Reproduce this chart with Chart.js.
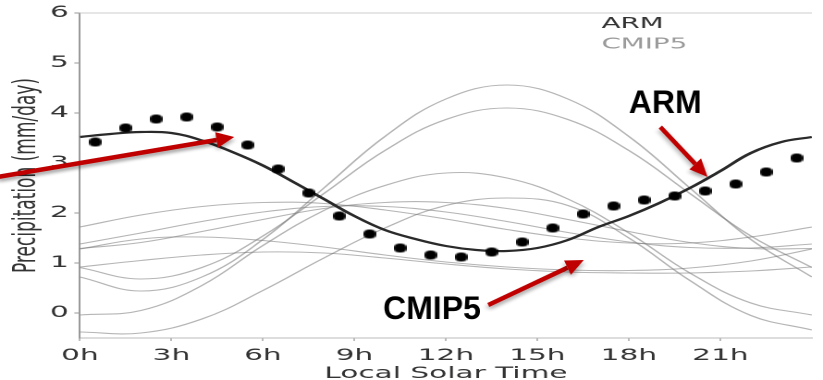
<!DOCTYPE html>
<html>
<head>
<meta charset="utf-8">
<title>Diurnal cycle of precipitation</title>
<script src="https://cdn.jsdelivr.net/npm/chart.js@4.4.1/dist/chart.umd.min.js"></script>
<style>
    html, body { margin: 0; padding: 0; background: #fff; overflow: hidden; }
    /* the original figure was stretched sideways, so the canvas is too */
    #chart { display: block; transform: scaleX(1.8494); transform-origin: 0 0; }
</style>
</head>
<body>
<canvas id="chart" width="445" height="380"></canvas>
<script>
// ARM observations (dots), hourly means
const obsHours = [0.5, 1.5, 2.5, 3.5, 4.5, 5.5, 6.5, 7.5, 8.5, 9.5, 10.5, 11.5,
    12.5, 13.5, 14.5, 15.5, 16.5, 17.5, 18.5, 19.5, 20.5, 21.5, 22.5, 23.5];
const obsPrecip = [3.42, 3.70, 3.88, 3.92, 3.72, 3.36, 2.88, 2.40, 1.94, 1.58, 1.30, 1.16,
    1.12, 1.22, 1.42, 1.70, 1.98, 2.14, 2.26, 2.34, 2.44, 2.58, 2.82, 3.10];

// ARM fitted curve
const armHours = [0, 1, 2, 3, 4, 5, 6, 7, 8, 9, 10, 11, 12, 13, 14, 15, 16, 17, 18, 19, 20, 21, 22, 23, 24];
const armFit = [3.52, 3.58, 3.62, 3.60, 3.45, 3.22, 2.95, 2.62, 2.28, 1.94, 1.66, 1.48, 1.34,
    1.26, 1.24, 1.30, 1.46, 1.72, 1.94, 2.20, 2.50, 2.84, 3.20, 3.42, 3.52];

// CMIP5 models, read every two hours
const modelHours = [0, 2, 4, 6, 8, 10, 12, 14, 16, 18, 20, 22, 24];
const model1 = [1.72, 1.96, 2.13, 2.21, 2.19, 2.06, 1.88, 1.67, 1.50, 1.40, 1.40, 1.52, 1.72];
const model2 = [1.38, 1.60, 1.83, 2.02, 2.13, 2.13, 2.02, 1.83, 1.61, 1.42, 1.31, 1.30, 1.38];
const model3 = [1.29, 1.41, 1.63, 1.87, 2.09, 2.21, 2.21, 2.09, 1.87, 1.63, 1.41, 1.29, 1.29];
const model4 = [1.28, 1.48, 1.52, 1.45, 1.32, 1.16, 1.02, 0.92, 0.86, 0.85, 0.90, 1.04, 1.28];
const model5 = [0.92, 1.05, 1.16, 1.22, 1.20, 1.10, 0.98, 0.88, 0.82, 0.80, 0.80, 0.84, 0.92];
const model6 = [0.91, 0.68, 0.91, 1.54, 2.39, 3.25, 3.87, 4.10, 3.87, 3.25, 2.39, 1.54, 0.91];
const model7 = [0.72, 0.44, 0.72, 1.47, 2.50, 3.53, 4.28, 4.56, 4.28, 3.53, 2.50, 1.47, 0.72];
const model8 = [-0.04, 0.05, 0.55, 1.35, 2.05, 2.55, 2.80, 2.70, 2.28, 1.60, 0.80, 0.20, -0.04];
const model9 = [-0.38, -0.40, -0.12, 0.45, 1.10, 1.70, 2.15, 2.30, 2.15, 1.50, 0.65, -0.05, -0.34];
const cmip5Models = [model1, model2, model3, model4, model5, model6, model7, model8, model9];

const xTicks = [0, 3, 6, 9, 12, 15, 18, 21];
const yTicks = [0, 1, 2, 3, 4, 5, 6];
const legendLabels = ['ARM', 'CMIP5'];
const legendColors = ['#333333', '#9a9a9a'];

const S = 823 / 445; // same factor as the css stretch

// red call-outs, in data units: [hour, mm/day]
const callouts = [
    { from: [-2.7, 2.72], to: [5.06, 3.52] },
    { from: [19.03, 3.72], to: [20.58, 2.72] },
    { from: [13.39, 0.16], to: [16.52, 1.06] }
];

function toPoints(hours, values) {
    return hours.map((h, i) => ({ x: h, y: values[i] }));
}

// dots look like ellipses once stretched, so squeeze them first
function dotImage(w, h) {
    const c = document.createElement('canvas');
    c.width = w;
    c.height = h;
    const g = c.getContext('2d');
    g.fillStyle = '#000';
    g.beginPath();
    g.ellipse(w / 2, h / 2, w / 2, h / 2, 0, 0, Math.PI * 2);
    g.fill();
    return c;
}

function drawArrow(ctx, x0, y0, x1, y1) {
    const head = 18, half = 8;
    const ang = Math.atan2(y1 - y0, x1 - x0);
    const bx = x1 - head * Math.cos(ang);
    const by = y1 - head * Math.sin(ang);
    ctx.beginPath();
    ctx.moveTo(x0, y0);
    ctx.lineTo(bx, by);
    ctx.stroke();
    ctx.beginPath();
    ctx.moveTo(x1, y1);
    ctx.lineTo(bx + half * Math.sin(ang), by - half * Math.cos(ang));
    ctx.lineTo(bx - half * Math.sin(ang), by + half * Math.cos(ang));
    ctx.closePath();
    ctx.fill();
}

const overlay = {
    id: 'overlay',
    beforeDatasetsDraw(chart) {
        const { ctx, chartArea } = chart;
        ctx.save();
        ctx.strokeStyle = '#cccccc';
        ctx.lineWidth = 1;
        ctx.beginPath();
        ctx.moveTo(chartArea.left, chartArea.top);
        ctx.lineTo(chartArea.right, chartArea.top);
        ctx.stroke();
        ctx.restore();
    },
    afterDraw(chart) {
        const { ctx } = chart;
        const x = chart.scales.x;
        const y = chart.scales.y;

        // legend, top right
        ctx.save();
        ctx.font = '15px "DejaVu Sans"';
        ctx.textBaseline = 'middle';
        legendLabels.forEach((label, i) => {
            ctx.fillStyle = legendColors[i];
            ctx.fillText(label, x.getPixelForValue(17.1), y.getPixelForValue(5.78) + i * 20.5);
        });
        ctx.restore();

        // call-outs were pasted on afterwards, so undo the stretch for them
        ctx.save();
        ctx.scale(1 / S, 1);
        const px = h => x.getPixelForValue(h) * S;
        const py = v => y.getPixelForValue(v);
        ctx.shadowColor = 'rgba(0, 0, 0, 0.35)';
        ctx.shadowBlur = 6;
        ctx.shadowOffsetY = 6;
        ctx.strokeStyle = '#c00000';
        ctx.fillStyle = '#c00000';
        ctx.lineWidth = 4.5;
        callouts.forEach(c => drawArrow(ctx, px(c.from[0]), py(c.from[1]), px(c.to[0]), py(c.to[1])));
        ctx.shadowColor = 'transparent';
        ctx.fillStyle = '#000';
        ctx.font = 'bold 32px "Liberation Sans"';
        ctx.fillText('ARM', px(18.0), py(4.0));
        ctx.fillText('CMIP5', px(9.94), py(-0.12));
        ctx.restore();
    }
};

const datasets = [{
    label: 'ARM obs',
    data: toPoints(obsHours, obsPrecip),
    showLine: false,
    pointStyle: dotImage(7, 9),
    pointRadius: 5,
    order: 0
}, {
    label: 'ARM',
    data: toPoints(armHours, armFit),
    borderColor: '#2a2a2a',
    borderWidth: 2.2,
    pointRadius: 0,
    tension: 0.4,
    order: 1
}];

cmip5Models.forEach((values, i) => {
    datasets.push({
        label: 'CMIP5 ' + (i + 1),
        data: toPoints(modelHours, values),
        borderColor: 'rgba(120, 120, 120, 0.55)',
        borderWidth: 1.1,
        pointRadius: 0,
        tension: 0.4,
        order: 2
    });
});

const tickFont = { family: 'DejaVu Sans', size: 16 };

new Chart(document.getElementById('chart'), {
    type: 'line',
    data: { datasets: datasets },
    options: {
        responsive: false,
        devicePixelRatio: 2,
        animation: false,
        layout: { padding: { top: 13, right: 0, bottom: 0, left: 0 } },
        plugins: {
            legend: { display: false },
            tooltip: { enabled: false }
        },
        scales: {
            x: {
                type: 'linear',
                min: 0,
                max: 24,
                afterBuildTicks: s => { s.ticks = xTicks.map(v => ({ value: v })); },
                afterFit: s => { s.height = 42; },
                grid: { drawOnChartArea: false, tickLength: 3, color: '#bbbbbb' },
                border: { color: '#bbbbbb', width: 1 },
                ticks: {
                    font: tickFont,
                    color: '#333333',
                    padding: 5,
                    maxRotation: 0,
                    autoSkip: false,
                    callback: v => v + 'h'
                },
                title: {
                    display: true,
                    text: 'Local Solar Time',
                    color: '#333333',
                    font: { family: 'DejaVu Sans', size: 16, lineHeight: 1 },
                    padding: { top: 0, bottom: -2 }
                }
            },
            y: {
                min: -0.5,
                max: 6,
                afterBuildTicks: s => { s.ticks = yTicks.map(v => ({ value: v })); },
                afterFit: s => { s.width = 43.2; },
                grid: { drawOnChartArea: false, tickLength: 3, color: '#999999' },
                border: { color: '#999999', width: 1 },
                ticks: { font: tickFont, color: '#333333', padding: 3 },
                title: {
                    display: true,
                    text: 'Precipitation (mm/day)',
                    color: '#333333',
                    font: { family: 'DejaVu Sans', size: 17, lineHeight: 1 },
                    padding: { top: 6, bottom: 0 }
                }
            }
        }
    },
    plugins: [overlay]
});
</script>
</body>
</html>
